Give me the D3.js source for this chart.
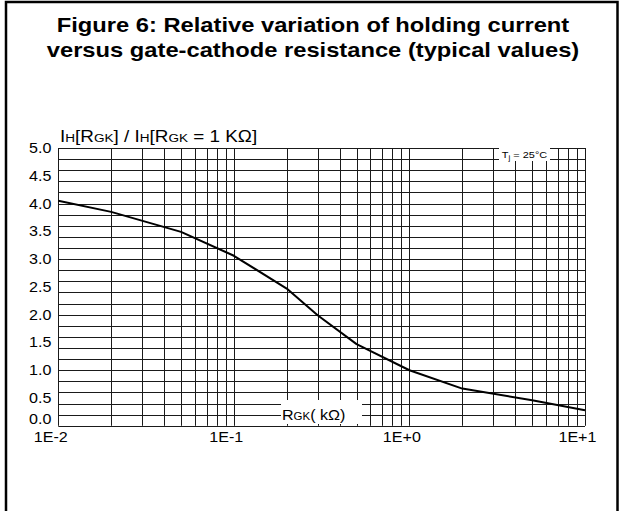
<!DOCTYPE html>
<html>
  <head>
    <meta charset="UTF-8" />
    <script src="https://cdn.jsdelivr.net/npm/d3@7"></script>
    <title>Holding current vs RGK</title>
    <style type="text/css">
      body { margin: 0; background: #fff; }
      text, tspan { font-family: "Liberation Sans", Arial, Helvetica, sans-serif; fill: #000; }
    </style>
  </head>
  <body>
    <div id="chartcontainer"></div>
    <script>
      // values
      var rgk = [0.01, 0.02, 0.05, 0.1, 0.2, 0.3, 0.5, 1, 2, 5, 10];
      var ihRatio = [4.05, 3.85, 3.49, 3.06, 2.47, 1.99, 1.47, 1.0, 0.67, 0.46, 0.28];
      var yTicks = [0, 0.5, 1, 1.5, 2, 2.5, 3, 3.5, 4, 4.5, 5];
      var xTicks = [0.01, 0.1, 1, 10];
      var xTickLabels = ["1E-2", "1E-1", "1E+0", "1E+1"];
      var titleLines = [
        "Figure 6: Relative variation of holding current",
        "versus gate-cathode resistance (typical values)",
      ];

      var W = 621, H = 511;
      var stretch = 1.15; // the original text is a bit wide

      // set the dimensions of the plot box
      var margin = { top: 148, right: 36, bottom: 85.2, left: 58.3 };

      var svg = d3
        .select("#chartcontainer")
        .append("svg")
        .attr("width", W)
        .attr("height", H);

      function widen(sel, cx, s) {
        sel.attr("transform", "translate(" + cx + ",0) scale(" + s + ",1) translate(" + -cx + ",0)");
      }

      // outer frame
      svg
        .append("rect")
        .attr("x", 6)
        .attr("y", 2)
        .attr("width", 611.5)
        .attr("height", 530)
        .attr("fill", "none")
        .attr("stroke", "#000")
        .attr("stroke-width", 2.5);

      // title
      titleLines.forEach(function (t, i) {
        svg
          .append("text")
          .attr("x", 313)
          .attr("y", 32 + i * 25)
          .attr("text-anchor", "middle")
          .style("font-size", "21px")
          .style("font-weight", "bold")
          .text(t)
          .call(widen, 313, 1.13);
      });

      var x = d3
        .scaleLog()
        .domain([0.01, 10])
        .range([margin.left, W - margin.right]);
      var y = d3
        .scaleLinear()
        .domain([0, 5])
        .range([H - margin.bottom, margin.top]);

      // grid
      var grid = svg.append("g").attr("stroke", "#1a1a1a").attr("stroke-width", 1);
      grid
        .selectAll("line.h")
        .data(y.ticks(20))
        .enter()
        .append("line")
        .attr("class", "h")
        .attr("x1", x(0.01))
        .attr("x2", x(10))
        .attr("y1", function (d) { return Math.round(y(d)) + 0.5; })
        .attr("y2", function (d) { return Math.round(y(d)) + 0.5; });
      grid
        .selectAll("line.v")
        .data(x.ticks())
        .enter()
        .append("line")
        .attr("class", "v")
        .attr("x1", function (d) { return Math.round(x(d)) + 0.5; })
        .attr("x2", function (d) { return Math.round(x(d)) + 0.5; })
        .attr("y1", y(5))
        .attr("y2", y(0));

      // Y axis labels
      var yAxis = svg
        .append("g")
        .attr("transform", "translate(" + margin.left + ",0)")
        .call(d3.axisLeft(y).tickValues(yTicks).tickFormat(d3.format(".1f")).tickSize(0).tickPadding(6));
      yAxis.select(".domain").remove();
      yAxis
        .selectAll("text")
        .style("font-size", "14px")
        .style("font-family", "'Liberation Sans', Arial, sans-serif")
        .attr("fill", "#000")
        .attr("transform", "scale(" + stretch + ",1)");
      // 0.0 sits on the bottom line, not centred on it
      yAxis
        .selectAll(".tick")
        .filter(function (d) { return d === 0; })
        .select("text")
        .attr("dy", "-0.15em");

      // X axis labels
      var xAxis = svg
        .append("g")
        .attr("transform", "translate(0," + y(0) + ")")
        .call(
          d3.axisBottom(x)
            .tickValues(xTicks)
            .tickFormat(function (d, i) { return xTickLabels[i]; })
            .tickSize(0)
            .tickPadding(6)
        );
      xAxis.select(".domain").remove();
      xAxis
        .selectAll("text")
        .style("font-size", "14px")
        .style("font-family", "'Liberation Sans', Arial, sans-serif")
        .attr("fill", "#000")
        .attr("x", -7)
        .attr("transform", "scale(" + stretch + ",1)");

      // the curve
      var pts = rgk.map(function (r, i) { return [r, ihRatio[i]]; });
      svg
        .append("path")
        .datum(pts)
        .attr("fill", "none")
        .attr("stroke", "#000")
        .attr("stroke-width", 2)
        .attr("stroke-linejoin", "round")
        .attr(
          "d",
          d3
            .line()
            .x(function (d) { return x(d[0]); })
            .y(function (d) { return y(d[1]); })
        );

      // y title
      var yt = svg
        .append("text")
        .attr("x", 60)
        .attr("y", 142)
        .style("font-size", "16px");
      [["I", 16], ["H", 11.5], ["[R", 16], ["GK", 11.5], ["] / I", 16], ["H", 11.5], ["[R", 16], ["GK", 11.5], [" = 1 K\u03A9]", 16]].forEach(function (p) {
        yt.append("tspan").attr("fill", "#000").style("font-size", p[1] + "px").text(p[0]);
      });
      yt.call(widen, 60, 1.18);

      // Tj label
      svg
        .append("rect")
        .attr("x", 499)
        .attr("y", 147)
        .attr("width", 51)
        .attr("height", 14)
        .attr("fill", "#fff");
      var tj = svg
        .append("text")
        .attr("x", 524.5)
        .attr("y", 158)
        .attr("text-anchor", "middle")
        .attr("fill", "#000")
        .style("font-size", "9.5px");
      tj.append("tspan").attr("fill", "#000").text("T");
      tj.append("tspan").attr("fill", "#000").attr("dy", 2).style("font-size", "7px").text("j");
      tj.append("tspan").attr("fill", "#000").attr("dy", -2).text(" = 25\u00B0C");
      tj.call(widen, 524.5, stretch);

      // x title
      svg
        .append("rect")
        .attr("x", 281)
        .attr("y", 400)
        .attr("width", 81)
        .attr("height", 24)
        .attr("fill", "#fff");
      var xt = svg
        .append("text")
        .attr("x", 282)
        .attr("y", 420)
        .style("font-size", "14px");
      xt.append("tspan").attr("fill", "#000").text("R");
      xt.append("tspan").attr("fill", "#000").style("font-size", "10px").text("GK");
      xt.append("tspan").attr("fill", "#000").text("( k\u03A9)");
      xt.call(widen, 282, stretch);
    </script>
  </body>
</html>
